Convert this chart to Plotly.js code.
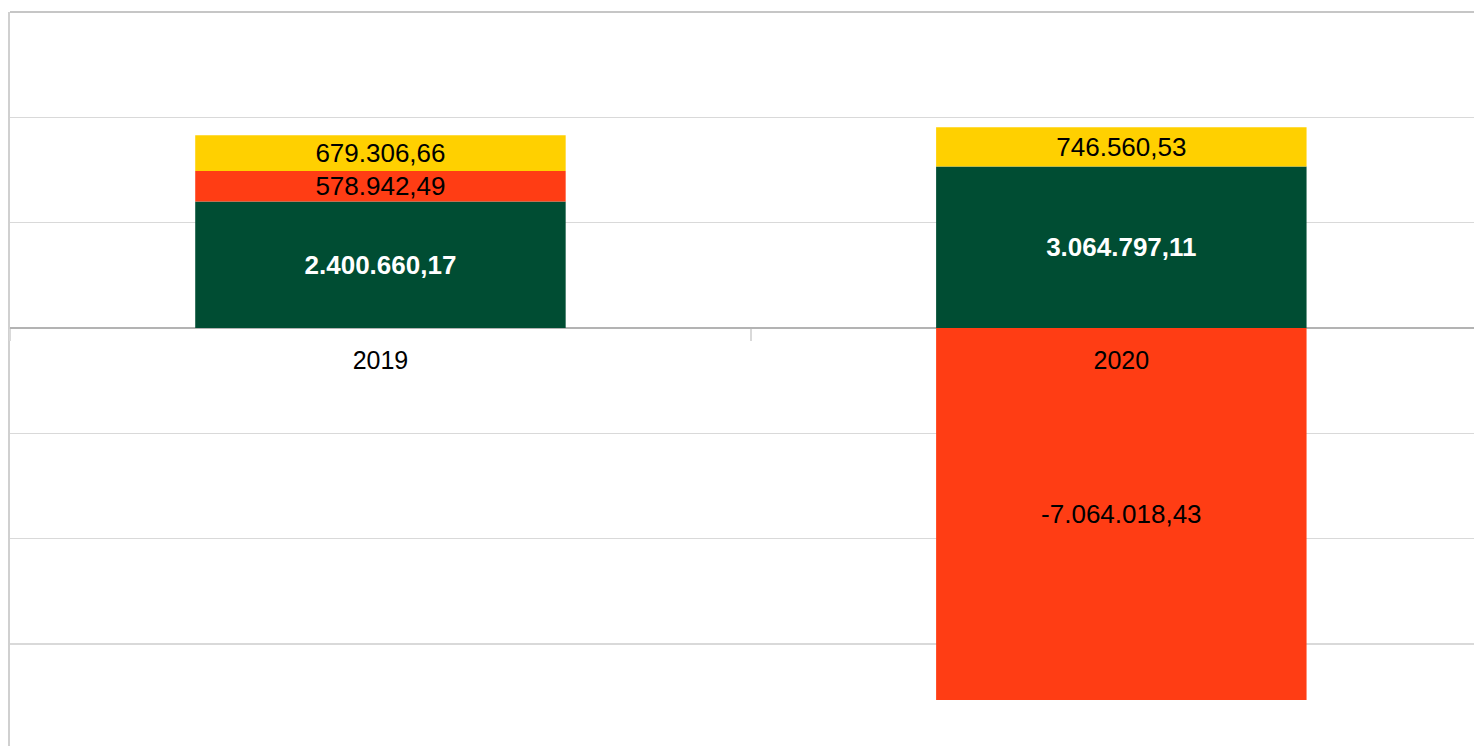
<!DOCTYPE html>
<html>
<head>
<meta charset="utf-8">
<script src="https://cdn.plot.ly/plotly-3.0.1.min.js"></script>
<style>
  html, body { margin: 0; padding: 0; background: #ffffff; }
  #chart { width: 1474px; height: 746px; }
</style>
</head>
<body>
<div id="chart"></div>
<script>
// Data
const years = ['2019', '2020'];
const greenValues = [2400660.17, 3064797.11];
const redValues = [578942.49, -7064018.43];
const yellowValues = [679306.66, 746560.53];

const greenColor = '#004d33';
const redColor = '#ff3d14';
const yellowColor = '#ffd000';

function fmt(v) {
  const neg = v < 0;
  const parts = Math.abs(v).toFixed(2).split('.');
  const intPart = parts[0].replace(/\B(?=(\d{3})+(?!\d))/g, '.');
  return (neg ? '-' : '') + intPart + ',' + parts[1];
}

const FONT = 'Liberation Sans, Arial, sans-serif';
const yMin = -7.937e6, yMax = 6e6;

function barTrace(name, values, color, textColor, bold) {
  return {
    type: 'bar',
    name: name,
    x: years,
    y: values,
    marker: { color: color, line: { width: 0 } },
    text: values.map(fmt),
    textposition: 'inside',
    insidetextanchor: 'middle',
    constraintext: 'none',
    textangle: 0,
    textfont: { family: FONT, size: 26, color: textColor, weight: bold ? 'bold' : 'normal' },
    hoverinfo: 'x+y'
  };
}

const data = [
  barTrace('green', greenValues, greenColor, '#ffffff', true),
  barTrace('red', redValues, redColor, '#000000', false),
  barTrace('yellow', yellowValues, yellowColor, '#000000', false)
];

const layout = {
  width: 1474,
  height: 746,
  margin: { l: 10, r: 0, t: 12, b: 0, pad: 0 },
  paper_bgcolor: '#ffffff',
  plot_bgcolor: '#ffffff',
  showlegend: false,
  barmode: 'relative',
  bargap: 0.5,
  font: { family: FONT, color: '#000000' },
  xaxis: {
    type: 'category',
    range: [-0.5, 1.476],
    anchor: 'free',
    position: (0 - yMin) / (yMax - yMin),
    showline: false,
    showgrid: false,
    zeroline: false,
    ticks: 'outside',
    tickson: 'boundaries',
    ticklen: 12,
    tickwidth: 2,
    tickcolor: '#d9d9d9',
    ticklabelstandoff: 15,
    tickfont: { family: FONT, size: 25, color: '#000000' }
  },
  yaxis: {
    range: [yMin, yMax],
    tick0: 0,
    dtick: 2e6,
    showticklabels: false,
    ticks: '',
    showgrid: true,
    gridcolor: '#d9d9d9',
    gridwidth: 1.5,
    zeroline: true,
    zerolinecolor: '#b3b3b3',
    zerolinewidth: 1.5,
    showline: true,
    linecolor: '#d0d0d0',
    linewidth: 2
  },
  shapes: [{
    type: 'line', xref: 'paper', yref: 'paper',
    x0: 0, x1: 1, y0: 1, y1: 1,
    line: { color: '#b3b3b3', width: 1.5 },
    layer: 'above'
  }]
};

Plotly.newPlot('chart', data, layout, { displayModeBar: false, staticPlot: true });
</script>
</body>
</html>
